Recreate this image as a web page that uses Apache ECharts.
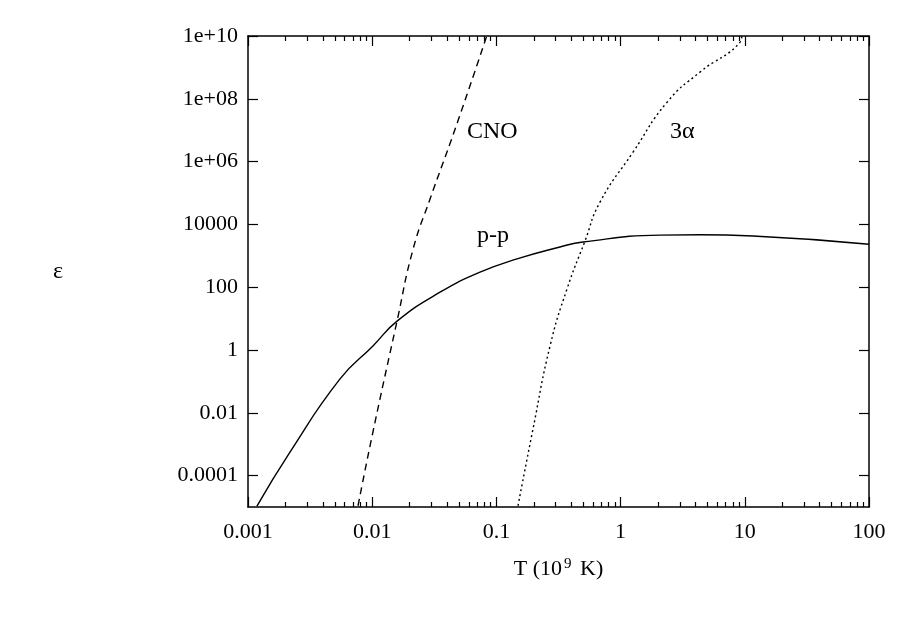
<!DOCTYPE html>
<html><head><meta charset="utf-8">
<script src="https://cdn.jsdelivr.net/npm/echarts@6/dist/echarts.min.js"></script>
<style>html,body{margin:0;padding:0;background:#fff}#c{width:918px;height:640px}</style>
</head><body><div id="c"></div>
<script>
// values stored as log10(T / 1e9 K) and log10(epsilon)
const ppLogT   = [-2.928,-2.662,-2.259,-1.994,-1.80,-1.454,-1.132,-0.834,-0.488,-0.303,0.317,0.64,1.066,2.0];
const ppLogEps = [-4.97,-3.25,-0.92,0.13,0.92,1.84,2.48,2.90,3.28,3.44,3.66,3.67,3.63,3.37];
const cnoLogT   = [-2.114,-1.994,-1.80,-1.671,-1.535,-1.333,-1.076];
const cnoLogEps = [-4.96,-2.61,0.92,3.21,4.80,7.03,10.02];
const aLogT   = [-0.826,-0.705,-0.568,-0.432,-0.287,-0.166,0.100,0.374,0.639,0.961,0.977];
const aLogEps = [-4.96,-2.51,0.13,1.94,3.47,4.71,6.30,7.89,8.85,9.80,10.02];
const xTickValues = [-3,-2,-1,0,1,2];
const xTickLabels = ['0.001','0.01','0.1','1','10','100'];
const yTickValues = [-4,-2,0,2,4,6,8,10];
const yTickLabels = ['0.0001','0.01','1','100','10000','1e+06','1e+08','1e+10'];

const zip = (a,b)=>a.map((v,i)=>[v,b[i]]);
const xMinor = [];
for (let d=-3; d<2; d++) for (let m=2; m<10; m++) xMinor.push(d+Math.log10(m));
const font = 'Liberation Serif';
const chart = echarts.init(document.getElementById('c'));
const tick = (vals,len)=>({show:true,inside:true,length:len,customValues:vals,lineStyle:{color:'#000',width:1.2}});
const axLine = {show:true,onZero:false,lineStyle:{color:'#000',width:1.5}};
const noLine = {show:false,onZero:false};
function xAx(pos,line,vals,len,labels){return {type:'value',position:pos,min:-3,max:2,axisLine:line?axLine:noLine,
  axisTick:tick(vals,len),splitLine:{show:false},
  axisLabel:labels?{show:true,customValues:xTickValues,color:'#000',fontFamily:font,fontSize:22,margin:14,
    formatter:v=>xTickLabels[xTickValues.indexOf(Math.round(v))]||''}:{show:false}};}
function yAx(pos,labels){return {type:'value',position:pos,min:-5,max:10,axisLine:axLine,axisTick:tick(yTickValues,10),splitLine:{show:false},
  axisLabel:labels?{show:true,customValues:yTickValues,color:'#000',fontFamily:font,fontSize:22,margin:10,
    formatter:v=>yTickLabels[yTickValues.indexOf(Math.round(v))]||''}:{show:false}};}
function lineSeries(d,type){return {type:'line',data:d,smooth:true,symbol:'none',clip:true,
  lineStyle:{color:'#000',width:1.4,type:type},animation:false};}
const xb = xAx('bottom',true,xTickValues,10,true);
xb.name='{a|T (10}{s|9}{a| K)}'; xb.nameLocation='middle'; xb.nameGap=50;
xb.nameTextStyle={rich:{a:{fontFamily:font,fontSize:22,color:'#000'},s:{fontFamily:font,fontSize:15,color:'#000',verticalAlign:'top',padding:[0,3,10,2]}}};
const yl = yAx('left',true);
yl.name='ε'; yl.nameLocation='middle'; yl.nameGap=185; yl.nameRotate=0; yl.nameTextStyle={fontFamily:font,fontSize:24,color:'#000'};
chart.setOption({
  animation:false,
  grid:{left:248,right:49,top:36,bottom:133},
  xAxis:[xb, xAx('top',true,xTickValues,10,false), xAx('bottom',false,xMinor,5,false), xAx('top',false,xMinor,5,false)],
  yAxis:[yl, yAx('right',false)],
  series:[lineSeries(zip(ppLogT,ppLogEps),'solid'),lineSeries(zip(cnoLogT,cnoLogEps),[7,5]),lineSeries(zip(aLogT,aLogEps),[2,3])],
  graphic:[
    {type:'text',left:467,top:120,style:{text:'CNO',font:'24px "Liberation Serif"',fill:'#000'}},
    {type:'text',left:670,top:120,style:{text:'3α',font:'24px "Liberation Serif"',fill:'#000'}},
    {type:'text',left:477,top:224,style:{text:'p-p',font:'24px "Liberation Serif"',fill:'#000'}}
  ]
});
</script></body></html>
